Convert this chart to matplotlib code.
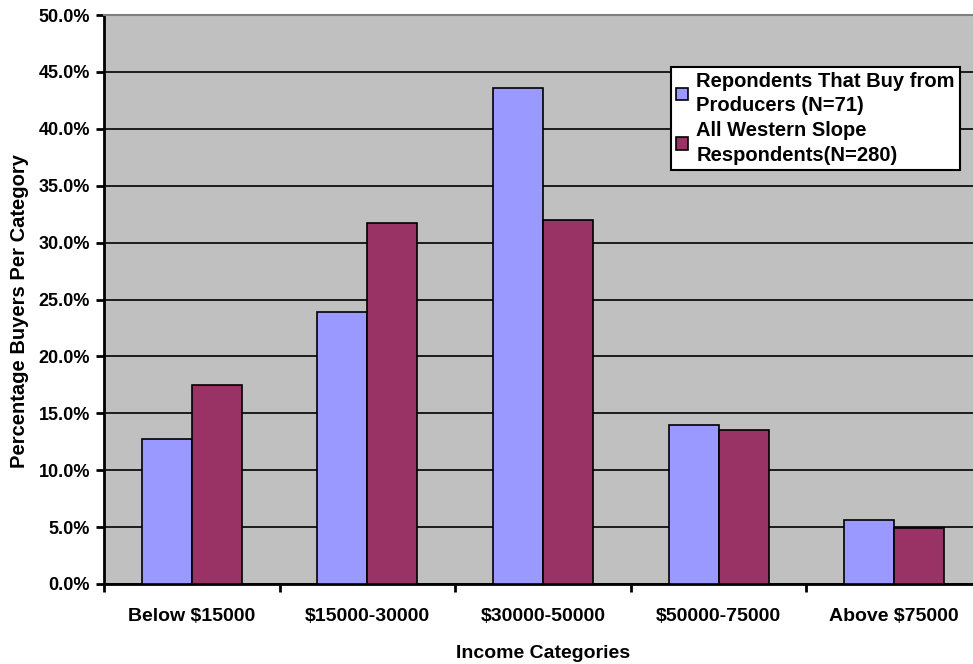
import numpy as np
import matplotlib.pyplot as plt
from matplotlib.ticker import FuncFormatter

# income categories
categories = ["Below $15000", "$15000-30000", "$30000-50000", "$50000-75000", "Above $75000"]
buyers = [12.7, 23.9, 43.6, 14.0, 5.6]      # Repondents That Buy from Producers (N=71)
all_resp = [17.5, 31.7, 32.0, 13.5, 4.9]    # All Western Slope Respondents(N=280)
label_buyers = "Repondents That Buy from\nProducers (N=71)"
label_all = "All Western Slope\nRespondents(N=280)"

plt.rcParams['font.family'] = ['Liberation Sans', 'DejaVu Sans']
plt.rcParams['font.weight'] = 'bold'

fig = plt.figure(figsize=(9.73, 6.64), dpi=100)
ax = fig.add_axes([104/973, 80/664, 878/973, 569/664])
ax.set_facecolor('#C0C0C0')

x = np.arange(len(categories))
w = 0.285
ax.bar(x - w/2, buyers, w, color='#9999FF', edgecolor='black', linewidth=1.2,
       label=label_buyers, zorder=3)
ax.bar(x + w/2, all_resp, w, color='#993366', edgecolor='black', linewidth=1.2,
       label=label_all, zorder=3)

ax.set_xlim(-0.5, len(categories) - 0.5)
ax.set_ylim(0, 50)
ax.set_yticks(np.arange(0, 51, 5))
ax.yaxis.set_major_formatter(FuncFormatter(lambda v, p: f"{v:.1f}%"))
ax.grid(axis='y', color='black', linewidth=1.2, zorder=1)
ax.set_axisbelow(True)

# category ticks at boundaries, labels centred
ax.set_xticks(np.arange(-0.5, len(categories), 1.0))
ax.set_xticklabels([])
ax.set_xticks(x, minor=True)
ax.set_xticklabels(categories, minor=True, fontsize=14, fontweight='bold')
ax.tick_params(axis='x', which='minor', length=0, pad=17)
ax.tick_params(axis='x', which='major', length=6, width=2, direction='out')
ax.tick_params(axis='y', length=6, width=2, direction='out', labelsize=13, pad=4)
for t in ax.get_yticklabels():
    t.set_fontweight('bold')

for s in ['left', 'bottom']:
    ax.spines[s].set_linewidth(2)
    ax.spines[s].set_color('black')
ax.spines['top'].set_color('#808080')
ax.spines['top'].set_linewidth(1.5)
ax.spines['right'].set_visible(False)

ax.set_xlabel("Income Categories", fontsize=14, fontweight='bold', labelpad=15)
ax.set_ylabel("Percentage Buyers Per Category", fontsize=14.5, fontweight='bold')
ax.yaxis.set_label_coords(-0.085, 0.48)

leg = ax.legend(loc='upper left', bbox_to_anchor=(0.6458, 0.9086), borderaxespad=0,
                fancybox=False, framealpha=1, edgecolor='black', fontsize=14.5,
                handlelength=0.6, handleheight=0.6, handletextpad=0.4,
                labelspacing=0.3, borderpad=0.25)
leg.get_frame().set_linewidth(1.5)
for t in leg.get_texts():
    t.set_fontweight('bold')
    t.set_linespacing(1.35)

fig.savefig("out.png", dpi=100)
